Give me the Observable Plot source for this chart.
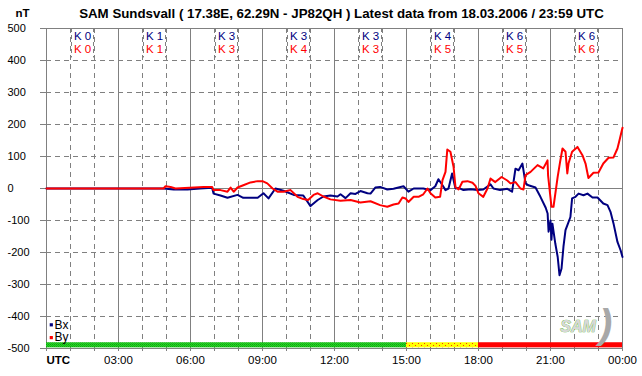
<!DOCTYPE html>
<html>
<head>
<meta charset="utf-8">
<script src="https://cdn.jsdelivr.net/npm/d3@7"></script>
<script src="https://cdn.jsdelivr.net/npm/@observablehq/plot@0.6"></script>
<style>
  html, body { margin: 0; padding: 0; background: #ffffff; }
  svg { display: block; }
</style>
</head>
<body>
<div id="chart"></div>
<script>
// ---- Data ----
const titleText = "SAM Sundsvall ( 17.38E, 62.29N - JP82QH ) Latest data from 18.03.2006 / 23:59 UTC";
const unitLabel = "nT";

const bxHours = [0,2.25,4.875,5.3,5.875,6.4,6.9,6.96,7.25,7.54,7.96,8.2,8.8,9.04,9.25,9.54,9.875,10.3,10.7,11.0,11.3,11.54,11.83,12.125,12.25,12.46,12.67,12.875,13.08,13.375,13.5,13.7,13.9,14.2,14.46,14.875,15.08,15.3,15.7,15.875,16.0,16.2,16.33,16.5,16.625,16.75,16.9,17.04,17.17,17.375,17.67,17.96,18.2,18.5,18.625,18.9,19.2,19.4,19.54,19.67,19.83,19.96,20.08,20.375,20.58,20.8,20.88,20.92,21.0,21.04,21.08,21.2,21.3,21.375,21.46,21.54,21.625,21.7,21.83,21.9,22.04,22.17,22.375,22.54,22.75,22.96,23.2,23.375,23.5,23.625,23.79,23.92,24.0];
const bxValues = [0,0,0,-3,-3,0,2,-16,-22,-29,-20,-29,-29,-15,-31,0,-7,-20,-22,-55,-36,-25,-22,-25,-18,-30,-15,-17,-8,-15,-16,3,5,-3,-1,7,-10,0,0,-3,-5,7,29,10,-5,0,47,0,2,-5,-2,-5,-3,13,0,-5,-1,-10,62,57,78,16,10,3,-26,-60,-78,-135,-100,-160,-110,-172,-214,-271,-250,-182,-130,-115,-89,-31,-26,-16,-21,-16,-28,-28,-47,-52,-73,-109,-167,-193,-214];

const byHours = [0,4.875,4.96,5.17,5.375,6.54,6.9,6.96,7.25,7.54,7.67,7.8,7.96,8.2,8.5,8.8,9.0,9.2,9.42,9.625,9.875,10.17,10.46,10.7,10.9,11.125,11.3,11.54,11.83,12.25,12.67,13.08,13.5,13.9,14.2,14.46,14.67,14.83,14.96,15.08,15.3,15.5,15.7,15.875,16.0,16.2,16.4,16.5,16.625,16.7,16.83,16.96,17.04,17.17,17.33,17.54,17.75,17.875,18.0,18.2,18.375,18.5,18.7,18.96,19.2,19.33,19.54,19.75,19.875,19.96,20.17,20.46,20.7,20.875,20.9,21.04,21.125,21.3,21.4,21.5,21.625,21.7,21.75,21.9,22.125,22.33,22.46,22.58,22.79,23.0,23.2,23.42,23.625,23.79,23.875,24.0];
const byValues = [0,0,7,5,0,5,5,-5,-5,-10,3,-10,3,10,19,23,23,16,0,-10,-10,-5,-26,-33,-36,-20,-15,-25,-34,-38,-36,-44,-40,-52,-57,-50,-47,-28,-31,-42,-26,-26,-18,0,-15,-28,-26,26,52,122,115,68,5,-3,21,23,18,8,-15,-26,0,31,20,36,25,16,20,0,-3,42,52,73,63,88,40,-57,-57,37,83,125,115,47,78,115,130,104,78,33,49,50,78,96,97,125,151,190];

const kIntervalCenters = [1.5,4.5,7.5,10.5,13.5,16.5,19.5,22.5];
const kBx = ["K 0","K 1","K 3","K 3","K 3","K 4","K 6","K 6"];
const kBy = ["K 0","K 1","K 3","K 4","K 3","K 5","K 5","K 6"];

const yTickValues = [500,400,300,200,100,0,-100,-200,-300,-400,-500];
const xTickHours = [3,6,9,12,15,18,21,24];
const xTickLabels = ["03:00","06:00","09:00","12:00","15:00","18:00","21:00","00:00"];
const xStartLabel = "UTC";

const bandStart = [0,15,18];
const bandEnd = [15,18,24];
const bandFill = ["url(#patGreen)","url(#patYellow)","#ff0000"];

const seriesNames = ["Bx","By"];
const seriesColors = ["#000080","#ff0000"];
const logoText = "SAM";

// ---- Build ----
const bx = bxHours.map((h,i) => ({h, v: bxValues[i]}));
const by = byHours.map((h,i) => ({h, v: byValues[i]}));
const hours = d3.range(0, 25);
const dashedHours = hours.filter(h => h % 3 !== 0);
const solidHours = hours.filter(h => h % 3 === 0);
const dashedY = yTickValues.filter(v => v !== 0 && Math.abs(v) !== 500);
const bands = bandStart.map((s,i) => ({s, e: bandEnd[i], f: bandFill[i]}));
const kRows = kIntervalCenters.map((c,i) => ({c, bx: kBx[i], by: kBy[i]}));
const legend = seriesNames.map((n,i) => ({n, c: seriesColors[i], y: i === 0 ? -426 : -466}));

const GRID = "#808080";

function defs() {
  const d = d3.create("svg:defs");
  const g = d.append("pattern").attr("id","patGreen").attr("patternUnits","userSpaceOnUse")
    .attr("width",2).attr("height",2);
  g.append("rect").attr("width",2).attr("height",2).attr("fill","#22dd22");
  g.append("rect").attr("x",0).attr("y",0).attr("width",1).attr("height",1).attr("fill","#129a12");
  g.append("rect").attr("x",1).attr("y",1).attr("width",1).attr("height",1).attr("fill","#18b018");
  const y = d.append("pattern").attr("id","patYellow").attr("patternUnits","userSpaceOnUse")
    .attr("width",6).attr("height",4);
  y.append("rect").attr("width",6).attr("height",4).attr("fill","#ffff00");
  y.append("rect").attr("x",1).attr("y",1).attr("width",1).attr("height",1).attr("fill","#ff3300");
  y.append("rect").attr("x",4).attr("y",3).attr("width",1).attr("height",1).attr("fill","#ff3300");
  return d.node();
}

const chart = Plot.plot({
  width: 642,
  height: 376,
  marginLeft: 46,
  marginRight: 20,
  marginTop: 28,
  marginBottom: 28,
  style: {fontFamily: "'Liberation Sans', Arial, sans-serif", fontSize: "11px", background: "#ffffff", color: "#000"},
  x: {domain: [0, 24], axis: null},
  y: {domain: [-500, 500], axis: null},
  marks: [
    defs,
    // dashed grid
    Plot.ruleX(dashedHours, {x: d => d, y1: 500, y2: -500, stroke: GRID, strokeDasharray: "5,4"}),
    Plot.ruleY(dashedY, {y: d => d, x1: 0, x2: 24, stroke: GRID, strokeDasharray: "5,4"}),
    // solid grid
    Plot.ruleX(solidHours, {x: d => d, y1: 500, y2: -500, stroke: GRID}),
    Plot.ruleY([500, 0, -500], {y: d => d, x1: 0, x2: 24, stroke: GRID}),
    // tick marks
    Plot.ruleX(hours, {x: d => d, y1: -500, y2: -500, insetBottom: -3, stroke: GRID}),
    Plot.ruleY(yTickValues, {y: d => d, x1: 0, x2: 0, insetLeft: -6, stroke: GRID}),
    // K index boxes
    Plot.ruleX(kRows, {x: "c", dx: -11, y1: 500, y2: 408, stroke: GRID, strokeDasharray: "4,3"}),
    Plot.ruleX(kRows, {x: "c", dx: 11, y1: 500, y2: 408, stroke: GRID, strokeDasharray: "4,3"}),
    Plot.text(kRows, {x: "c", y: 500, dy: 8, text: "bx", fill: seriesColors[0], fontSize: 11.5}),
    Plot.text(kRows, {x: "c", y: 500, dy: 21, text: "by", fill: seriesColors[1], fontSize: 11.5}),
    // activity band
    Plot.rect(bands, {x1: "s", x2: "e", y1: -482, y2: -498, fill: "f"}),
    // series
    Plot.line(bx, {x: "h", y: "v", stroke: seriesColors[0], strokeWidth: 2}),
    Plot.line(by, {x: "h", y: "v", stroke: seriesColors[1], strokeWidth: 2}),
    // legend
    Plot.dot(legend, {x: 0.2, y: "y", symbol: "square", r: 1.8, fill: "c", stroke: null}),
    Plot.text(legend, {x: 0.33, y: "y", text: "n", textAnchor: "start", fontSize: 12}),
    // logo
    Plot.text([")"], {x: 23.3, y: -427, text: d => d, fontSize: 40, fill: "#a8a8a8", fontStyle: "italic", fontWeight: "bold"}),
    Plot.text([logoText], {x: 22.15, y: -432, text: d => d, fontSize: 16, fontStyle: "italic", fontWeight: "bold", fill: "#d8d8d8", stroke: "#66bb44", strokeWidth: 0.7}),
    // y labels
    Plot.text(yTickValues, {y: d => d, text: d => String(d), frameAnchor: "left", dx: -39, textAnchor: "start", fontSize: 11}),
    // x labels
    Plot.text(xTickHours, {x: d => d, y: -500, dy: 12, text: (d,i) => xTickLabels[i], fontSize: 11.5}),
    Plot.text([xStartLabel], {x: 0, y: -500, dy: 12, text: d => d, textAnchor: "start", fontWeight: "bold", fontSize: 11.5}),
    // title and unit
    Plot.text([titleText], {frameAnchor: "top", lineAnchor: "middle", dx: 7, dy: -15, text: d => d, fontWeight: "bold", fontSize: 13.3}),
    Plot.text([unitLabel], {frameAnchor: "top-left", lineAnchor: "middle", dx: -31, dy: -15, text: d => d, textAnchor: "start", fontWeight: "bold", fontSize: 11.5})
  ]
});
document.getElementById("chart").appendChild(chart);
</script>
</body>
</html>
